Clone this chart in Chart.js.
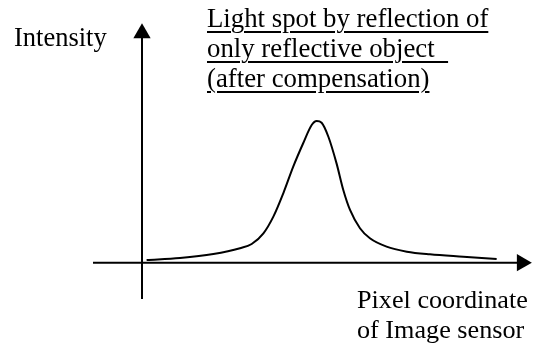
<!DOCTYPE html>
<html>
<head>
<meta charset="utf-8">
<script src="https://cdn.jsdelivr.net/npm/chart.js@4/dist/chart.umd.min.js"></script>
<style>
  body { margin: 0; background: #fff; }
  #wrap { position: relative; width: 534px; height: 347px; }
  #wrap canvas { position: absolute; left: 0; top: 0; }
  .lbl {
    position: absolute;
    font-family: "Liberation Serif", "Times New Roman", serif;
    font-size: 26.5px;
    color: #000;
    white-space: nowrap;
  }
  .u {
    text-decoration: underline;
    text-decoration-thickness: 2px;
    text-underline-offset: 4px;
  }
</style>
</head>
<body>
<div id="wrap">
  <canvas id="grafik" width="534" height="347"></canvas>
  <div class="lbl" id="lblY" style="left:14px; top:24px; line-height:26px;"></div>
  <div class="lbl" id="lblJudul" style="left:207px; top:3px; line-height:30px; font-size:26.8px;"></div>
  <div class="lbl" id="lblX" style="left:357px; top:285px; line-height:30px; font-size:26.2px;"></div>
</div>
<script>
// intensity profile of the light spot (x: pixel position, y: relative intensity)
const curveX = [1.3, 10.7, 20.1, 27.6, 30.9, 34.2, 37.0, 39.8, 42.6, 45.4, 47.8, 49.2,
                50.6, 52.5, 54.8, 56.7, 58.6, 61.4, 64.2, 68.9, 74.6, 81.1, 90.5, 99.9];
const curveY = [1.9, 3.3, 6.1, 10.2, 13.2, 20.7, 32.5, 49.0, 67.8, 84.3, 97.2, 100,
                98.8, 88.9, 70.1, 51.3, 37.2, 24.3, 17.2, 11.3, 7.8, 5.9, 4.2, 2.6];

// axis extents (same units as the curve)
const xAxisRange = [-13.8, 107];
const yAxisRange = [-25.6, 162];

const labelY = 'Intensity';
const judul = ['Light spot by reflection of', 'only reflective object\u00a0\u00a0', '(after compensation)'];
const labelX = ['Pixel coordinate', 'of Image sensor'];

function tulisLabel() {
  document.getElementById('lblY').textContent = labelY;
  const j = document.getElementById('lblJudul');
  judul.forEach(t => {
    const d = document.createElement('div');
    const s = document.createElement('span');
    s.className = 'u';
    s.textContent = t;
    d.appendChild(s);
    j.appendChild(d);
  });
  const lx = document.getElementById('lblX');
  labelX.forEach(t => {
    const d = document.createElement('div');
    d.textContent = t;
    lx.appendChild(d);
  });
}

function gambarGrafik() {
  const ctx = document.getElementById('grafik').getContext('2d');
  const kurva = curveX.map((x, i) => ({ x: x, y: curveY[i] }));

  new Chart(ctx, {
    type: 'line',
    data: {
      datasets: [
        {
          data: kurva,
          borderColor: '#000',
          borderWidth: 2,
          pointRadius: 0,
          cubicInterpolationMode: 'monotone',
          fill: false
        },
        {
          // horizontal axis with arrow head
          data: [{ x: xAxisRange[0], y: 0 }, { x: xAxisRange[1], y: 0 }],
          borderColor: '#000',
          borderWidth: 2,
          pointStyle: 'triangle',
          pointRotation: 90,
          pointRadius: [0, 10],
          pointBorderWidth: 0,
          pointBackgroundColor: '#000',
          fill: false
        },
        {
          // vertical axis with arrow head
          data: [{ x: 0, y: yAxisRange[0] }, { x: 0, y: yAxisRange[1] }],
          borderColor: '#000',
          borderWidth: 2,
          pointStyle: 'triangle',
          pointRotation: 0,
          pointRadius: [0, 10],
          pointBorderWidth: 0,
          pointBackgroundColor: '#000',
          fill: false
        }
      ]
    },
    options: {
      responsive: false,
      animation: false,
      events: [],
      layout: { padding: 0, autoPadding: false },
      plugins: { legend: { display: false }, tooltip: { enabled: false } },
      scales: {
        x: { type: 'linear', display: false, min: -40, max: 110.42 },
        y: { type: 'linear', display: false, min: -59.5, max: 185.4 }
      }
    }
  });
}

tulisLabel();
gambarGrafik();
</script>
</body>
</html>
